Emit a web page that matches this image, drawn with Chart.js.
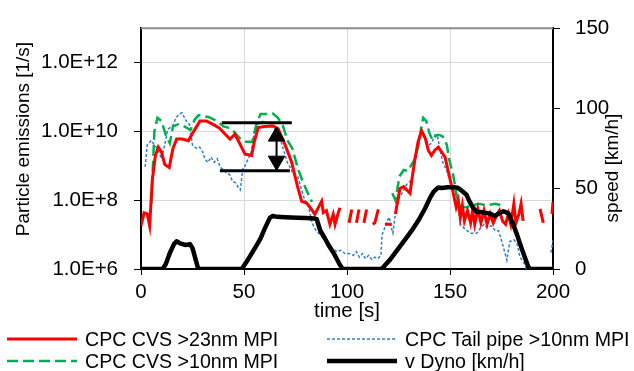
<!DOCTYPE html>
<html>
<head>
<meta charset="utf-8">
<script src="https://cdn.jsdelivr.net/npm/chart.js@4.4.1/dist/chart.umd.min.js"></script>
<style>
  body { margin: 0; background: #fff; }
  #wrap { position: relative; width: 634px; height: 371px; font-family: "Liberation Sans", Arial, sans-serif; }
  .item { position: absolute; height: 22px; line-height: 22px; font-size: 19.6px; color: #000; white-space: nowrap; }
  .item svg { position: absolute; top: 0; }
</style>
</head>
<body>
<div id="wrap">
  <canvas id="myChart" width="634" height="371"></canvas>
</div>
<script>
// Particle counts [1/s] and dyno speed over the test, sampled at irregular times

const redTime = [
  0, 1.5, 3, 4.2, 5.5, 7, 8.4, 10, 11.5, 13.7,
  15.5, 17.3, 20, 23, 25, 28.6, 31.8, 35, 38, 41.5,
  43.2, 45.6, 47.5, 50.5, 53.7, 55, 56.9, 60, 64.2, 66.6,
  70, 73.1, 76, 78, 80.4, 82.8, 84.4, 86, 87.7, 88.5,
  90, 91.7, 93.3, 94.2, 95.8, 96.6, 99, 101, 102.3, 103.5,
  104.6, 105.8, 107, 108.2, 109.5, 111, 112.5, 113.5, 115.2, 117,
  118.4, 121.7, 122.5, 123.5, 125.7, 127.5, 129, 130.6, 131.5, 133,
  134.5, 136.2, 138, 139.5, 141, 142.5, 144.3, 146, 147.6, 149.5,
  151.6, 153, 154, 155, 156, 157, 158.5, 160, 161, 162,
  163.5, 165, 166.5, 168, 169.5, 171, 172.5, 174, 175.5, 177,
  178.3, 179.5, 181, 182, 183.5, 184.5, 185.5, 187, 193.7, 195.3,
  197, 199.5, 200
];
const redValues = [
  1.8e7, 4.3e7, 4e7, 1.8e7, 4e8, 2e9, 3.5e9, 2.5e9, 1.1e9, 9e8,
  3.2e9, 6e9, 6e9, 5.4e9, 8.9e9, 2e10, 2e10, 1.6e10, 1.26e10, 7.6e9,
  6e9, 8.3e9, 5e9, 2.2e9, 2e9, 5e9, 1.3e10, 1.4e10, 1.45e10, 1.2e10,
  4e9, 1.3e9, 2.5e8, 9.3e7, 8.3e7, 5.4e7, 3.9e7, 6e7, 9.3e7, 4.4e7,
  5e7, 2e7, 3.9e7, 2e7, 4.4e7, 6e7, null, 2.2e7, 5.4e7, null,
  2.2e7, 5.4e7, null, 2.2e7, 5.4e7, null, 2e7, 2.2e7, 5.4e7, null,
  2e7, 2e7, null, 4e7, 2.2e8, 2.5e8, 2e8, 1.6e8, 4e8, 1.6e9,
  5e9, 1.05e10, 6.3e9, 2.8e9, 2e9, 2.8e9, 3.5e9, 2.5e9, 1.8e9, 5.6e8,
  1.6e8, 6.3e7, 1e8, 3.2e7, 7.1e7, 2.5e7, 5e7, 2.2e7, 5e7, 2e7,
  5.6e7, 2.2e7, 5e7, 2e7, 4e7, 2.2e7, 3.5e7, 5e7, 2.5e7, 2e7,
  4e7, 2e7, 7.9e7, 2.2e7, 4e7, 7.9e7, 2.5e7, null, 5.6e7, 2.2e7,
  null, 4e7, 8.9e7
];

const greenTime = [
  5, 6.5, 8, 10, 12, 14, 15.5, 18, 21, 24,
  26, 28, 30, 33, 37, 40, 43, 45, 48, 51,
  54, 56, 58, 61, 64, 66.5, 69, 71, 73.5, 76,
  78.5, 81, 83, 84, 122, 123.5, 125.5, 127.5, 129.5, 131,
  133, 134.5, 136, 137, 138.5, 140, 141.5, 143.5, 145, 146.5,
  148.5, 149.5, 151.5, 153.5, 155.5, 158, 161, 164, 168, 172,
  175
];
const greenValues = [
  7.9e7, 1e10, 2.5e10, 2e10, 7.9e9, 4.5e9, 1.4e10, 1.6e10, 1.4e10, 1.1e10,
  2.2e10, 3e10, 2.8e10, 2.6e10, 2e10, 1.4e10, 1.26e10, 1e10, 6.3e9, 5e9,
  5e9, 1.6e10, 3.2e10, 3.2e10, 3.3e10, 2.5e10, 1.4e10, 5.6e9, 3.2e9, 8.9e8,
  3.5e8, 1.6e8, 8.9e7, null, 1.6e8, 1e8, 5e8, 7.6e8, 7.1e8, 1e9,
  1.6e9, 3.5e9, 1.26e10, 2.5e10, 2e10, 8.9e9, 5.6e9, 7.9e9, 7.9e9, 7.1e9,
  4e9, 1.6e9, 5.6e8, 1.15e8, 6.3e7, 6.3e7, 7.1e7, 7.9e7, 7.1e7, 7.9e7,
  7.1e7
];

const blueTime = [
  2, 3, 5, 6.5, 8, 10, 11.5, 13, 15.5, 17,
  18.5, 20, 21.5, 23.5, 25, 27, 28.5, 30, 31, 32.5,
  34, 35.5, 37, 38.5, 40, 41.5, 43, 44.5, 46, 47,
  48.2, 49.5, 50.5, 52, 53.5, 55, 57, 58.6, 61, 63,
  65, 67, 69, 71, 72.5, 74, 76, 78, 79.5, 81,
  83, 85, 87, 88.5, 90, 91.7, 93, 95, 97, 99,
  101, 103, 104.5, 106, 107.5, 109, 110.5, 112, 113.5, 115,
  116.5, 117, 118.4, 119.5, 120.5, 121.5, 122.3, 124.3, 125.7, 127.2,
  129, 130.6, 132, 134, 135.5, 136.5, 138, 139.5, 141, 142.7,
  144, 145, 146.5, 148.5, 150, 151.5, 153.4, 155, 156.5, 158.3,
  160, 161.5, 163, 165, 166.5, 168, 170, 172, 173.5, 175,
  176.5, 177.6, 179, 181, 182.5, 184, 186.5, 188, 190, 199,
  200
];
const blueValues = [
  9.3e8, 4e9, 5.5e9, 4e9, 3.2e9, 1.6e9, 4e9, 1.15e10, 1.5e10, 2.5e10,
  3.2e10, 3.5e10, 2.2e10, 1.6e10, 4e9, 3.2e9, 3.5e9, 2.5e9, 1.6e9, 1.26e9,
  1.8e9, 1.26e9, 1.6e9, 8.9e8, 7.9e8, 6.3e8, 5.6e8, 3.5e8, 3.2e8, 2.5e8,
  2e8, 8.9e8, 1e9, 1.6e9, 2.5e9, 1e10, 1.6e10, 2e10, 1.8e10, 1.6e10,
  1.15e10, 7.9e9, 3.2e9, 1.26e9, 8.9e8, 5.6e8, 5e8, 2e8, 1e8, 7.9e7,
  2.2e7, 1.3e7, 1e7, 7.9e6, 6.8e6, 4.3e6, 4e6, 3.2e6, 3.5e6, 2.8e6,
  2.8e6, 2.5e6, 3.2e6, 2.2e6, 2.8e6, 2e6, 2.5e6, 1.9e6, 2.2e6, 2e6,
  2.5e6, 1e7, 1.6e7, 2.5e7, 3.2e7, 1.6e7, 1.1e7, 9.3e7, 1.26e8, 1.8e8,
  2.9e8, 3.5e8, 5.5e8, 2.5e9, 6.3e9, 1.05e10, 6.3e9, 4e9, 4.5e9, 7.9e9,
  7.1e9, 3.2e9, 1.26e9, 7.1e8, 3.5e8, 2.2e8, 1.15e8, 2e7, 1.6e7, 1.3e7,
  1.1e7, 1.1e7, 1.1e7, 1.6e7, 2e7, 1.6e7, 1.8e7, 1.3e7, 1.3e7, 6.8e6,
  3.2e6, 1.8e6, 6.3e6, 7.1e6, 5.6e6, 2.2e6, 1.3e6, 5e5, null, 3e6,
  6.8e6
];

const speedTime = [
  0, 10.5, 12, 14, 16, 17.3, 19, 21.4, 23.8, 25,
  26.5, 27.8, 48.9, 51, 55.3, 58, 60, 62.6, 64, 66,
  70, 76, 80, 84, 85.3, 87, 89.3, 91, 93.5, 96.6,
  98, 116.8, 121, 124.9, 128, 131.4, 135, 138, 140.3, 142,
  144.3, 146, 149, 152, 154, 156, 158, 159.5, 161.3, 163,
  165, 167, 169.4, 171.8, 174, 176, 178.3, 180, 182.4, 185,
  188, 189, 200
];
const speedValues = [
  0, 0, 3, 10, 15.5, 17.3, 16, 15, 15.5, 13,
  6, 0, 0, 4, 13, 19, 25, 32, 33, 32.5,
  32.3, 32, 31.8, 31.5, 31, 24, 19, 15, 10, 2.5,
  0, 0, 6, 12.7, 18, 23.9, 31, 38, 44.3, 48,
  50.8, 50.5, 51, 51, 50.5, 48.5, 46.3, 42, 38, 35.5,
  35.5, 35, 34.5, 33, 35, 36, 34.7, 30, 21.9, 12,
  1.4, 0, 0
];

// two levels marked on the first hill, with a double arrow between them
const upperLevelTime = [39.2, 73.2];
const lowerLevelTime = [38.3, 72.3];
const levelValues = [1.8e10, 7.2e8];
const arrowTime = 65.8;
const arrowShaft = [1.3e10, 7.7e8];
const arrowHeads = [7.2e9, 1.39e9];

const timeTicks = [0, 50, 100, 150, 200];
const particleTicks = [1e6, 1e8, 1e10, 1e12];
const speedTicks = [0, 50, 100, 150];

const font = { family: '"Liberation Sans", Arial, sans-serif', size: 19 };
const bigFont = { family: font.family, size: 20.5 };

function toPoints(xs, ys) {
  return xs.map((x, i) => ({ x, y: ys[i] }));
}

// v Dyno first so it is painted on top of the emission curves
const datasets = [
  {
    label: "v Dyno [km/h]",
    data: toPoints(speedTime, speedValues),
    yAxisID: "y2",
    borderColor: "#000000",
    borderWidth: 4.5,
    borderJoinStyle: "round",
    borderCapStyle: "round",
  },
  {
    data: toPoints(upperLevelTime, [levelValues[0], levelValues[0]]),
    borderColor: "#000000",
    borderWidth: 3,
  },
  {
    data: toPoints(lowerLevelTime, [levelValues[1], levelValues[1]]),
    borderColor: "#000000",
    borderWidth: 3,
  },
  {
    data: toPoints([arrowTime, arrowTime], arrowShaft),
    borderColor: "#000000",
    borderWidth: 2,
  },
  {
    data: toPoints([arrowTime, arrowTime], arrowHeads),
    showLine: false,
    pointStyle: "triangle",
    pointRadius: 9.5,
    pointRotation: [0, 180],
    pointBackgroundColor: "#000000",
    pointBorderColor: "#000000",
    pointBorderWidth: 1,
  },
  {
    label: "CPC CVS >23nm MPI",
    data: toPoints(redTime, redValues),
    borderColor: "#ff0000",
    borderWidth: 3,
  },
  {
    label: "CPC CVS >10nm MPI",
    data: toPoints(greenTime, greenValues),
    borderColor: "#00b050",
    borderWidth: 2.5,
    borderDash: [11, 5],
  },
  {
    label: "CPC Tail pipe >10nm MPI",
    data: toPoints(blueTime, blueValues),
    borderColor: "#2e7fd0",
    borderWidth: 1.5,
    borderDash: [3, 2],
  },
];

// top frame line and the two rotated y-axis titles
const frameAndTitles = {
  id: "frameAndTitles",
  beforeDatasetsDraw(chart) {
    const { ctx, chartArea } = chart;
    ctx.save();
    ctx.strokeStyle = "#8c8c8c";
    ctx.lineWidth = 2;
    ctx.beginPath();
    ctx.moveTo(chartArea.left, chartArea.top);
    ctx.lineTo(chartArea.right, chartArea.top);
    ctx.stroke();
    ctx.restore();
  },
  afterDraw(chart) {
    const { ctx } = chart;
    ctx.save();
    ctx.font = `${font.size}px ${font.family}`;
    ctx.fillStyle = "#000";
    ctx.textAlign = "center";
    ctx.textBaseline = "middle";
    [
      [24, 139, "Particle emissions [1/s]"],
      [613, 168, "speed [km/h]"],
    ].forEach(([x, y, text]) => {
      ctx.save();
      ctx.translate(x, y);
      ctx.rotate(-Math.PI / 2);
      ctx.fillText(text, 0, 0);
      ctx.restore();
    });
    ctx.restore();
  },
};

const ctx = document.getElementById("myChart").getContext("2d");
const myChart = new Chart(ctx, {
  type: "line",
  data: { datasets },
  plugins: [frameAndTitles],
  options: {
    responsive: false,
    animation: false,
    layout: { padding: { top: 24, left: 0, right: 0, bottom: 0 } },
    elements: {
      point: { radius: 0 },
      line: { tension: 0, fill: false },
    },
    plugins: {
      legend: { display: false },
      tooltip: { enabled: false },
    },
    scales: {
      x: {
        type: "linear",
        min: 0,
        max: 200,
        afterBuildTicks: (scale) => {
          scale.ticks = timeTicks.map((value) => ({ value }));
        },
        ticks: { font: bigFont, color: "#000", padding: 5, maxRotation: 0 },
        grid: {
          color: (c) => (c.tick && (c.tick.value === 0 || c.tick.value === 200) ? "rgba(0,0,0,0)" : "#d9d9d9"),
          tickColor: "#000",
          tickLength: 6,
        },
        border: { color: "#000", width: 2 },
        title: { display: true, text: "time [s]", font: bigFont, color: "#000", padding: { top: 0, bottom: 47 } },
        afterFit: (scale) => {
          scale.height = 102;
        },
      },
      y: {
        type: "logarithmic",
        position: "left",
        min: 1e6,
        max: 1e13,
        afterBuildTicks: (scale) => {
          scale.ticks = particleTicks.map((value) => ({ value }));
        },
        ticks: {
          font: bigFont,
          color: "#000",
          padding: 16,
          callback: (v) => "1.0E+" + Math.round(Math.log10(v)),
        },
        grid: {
          color: (c) => (c.tick && c.tick.value === 1e6 ? "rgba(0,0,0,0)" : "#d9d9d9"),
          tickColor: "#000",
          tickLength: 7,
        },
        border: { color: "#000", width: 2 },
        afterFit: (scale) => {
          scale.width = 141;
        },
      },
      y2: {
        type: "linear",
        position: "right",
        min: 0,
        max: 150,
        afterBuildTicks: (scale) => {
          scale.ticks = speedTicks.map((value) => ({ value }));
        },
        ticks: { font: bigFont, color: "#000", padding: 15 },
        grid: { drawOnChartArea: false, tickColor: "#000", tickLength: 7 },
        border: { color: "#000", width: 2 },
        afterFit: (scale) => {
          scale.width = 81;
        },
      },
    },
  },
});

// Legend in two columns under the plot, styled from the datasets
const legendSlots = [
  { label: "CPC CVS >23nm MPI", x: 7, y: 339 },
  { label: "CPC Tail pipe >10nm MPI", x: 327, y: 339 },
  { label: "CPC CVS >10nm MPI", x: 7, y: 361 },
  { label: "v Dyno [km/h]", x: 327, y: 361 },
];

const wrap = document.getElementById("wrap");
legendSlots.forEach((slot) => {
  const ds = datasets.find((d) => d.label === slot.label);
  const item = document.createElement("div");
  item.className = "item";
  item.style.left = slot.x + "px";
  item.style.top = slot.y - 11 + "px";
  const dash = ds.borderDash ? ds.borderDash.join(" ") : "none";
  item.innerHTML =
    `<svg width="70" height="22"><line x1="0" y1="11" x2="70" y2="11" stroke="${ds.borderColor}" ` +
    `stroke-width="${ds.borderWidth}" stroke-dasharray="${dash}" stroke-linecap="${ds.borderCapStyle || "butt"}"/></svg>` +
    `<span style="position:absolute;left:78px;top:0">${slot.label.replace(/>/g, "&gt;")}</span>`;
  wrap.appendChild(item);
});
</script>
</body>
</html>
